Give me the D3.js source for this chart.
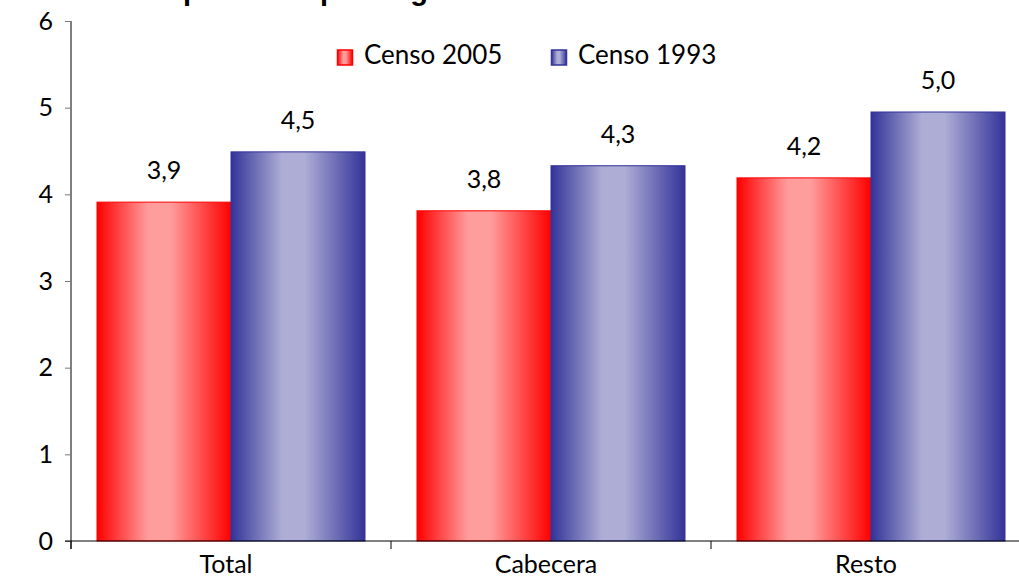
<!DOCTYPE html>
<html><head><meta charset="utf-8">
<script src="https://cdn.jsdelivr.net/npm/d3@7"></script>
<style>
body{margin:0;background:#fff;}
svg{display:block;}
text{font-family:Lato,"Open Sans",sans-serif;fill:#000;}
</style></head>
<body>
<svg id="chart" width="1019" height="582"></svg>
<script>
const categories = ["Total", "Cabecera", "Resto"];
const seriesNames = ["Censo 2005", "Censo 1993"];
const censo2005 = [3.91, 3.81, 4.19];
const censo1993 = [4.49, 4.33, 4.95];
const labels2005 = ["3,9", "3,8", "4,2"];
const labels1993 = ["4,5", "4,3", "5,0"];
const yTicks = [0, 1, 2, 3, 4, 5, 6];
const titleText = ["Promedio de ", "personas por hogar"];

const svg = d3.select("#chart");
const defs = svg.append("defs");

function grad(id, edge, light) {
  const g = defs.append("linearGradient").attr("id", id)
    .attr("x1", "0%").attr("x2", "100%").attr("y1", "0%").attr("y2", "0%");
  [[0, edge], [0.38, light], [0.55, light], [1, edge]].forEach(([o, c]) =>
    g.append("stop").attr("offset", o).attr("stop-color", c));
}
grad("gRed", "#ff0000", "#ff9c9c");
grad("gBlue", "#333399", "#adadd6");

const colors = {"Censo 2005": {fill: "url(#gRed)", stroke: "#ff0000"},
                "Censo 1993": {fill: "url(#gBlue)", stroke: "#333399"}};

const y = d3.scaleLinear().domain([0, 6]).range([541, 21]);
const x0 = d3.scaleBand().domain(categories).range([71, 1031]).padding(0);
const x1 = d3.scaleBand().domain(seriesNames).range([0, x0.bandwidth()])
  .paddingInner(0).paddingOuter(0.194);

const data = categories.map((c, i) => ({
  cat: c,
  vals: [
    {s: "Censo 2005", v: censo2005[i], lab: labels2005[i]},
    {s: "Censo 1993", v: censo1993[i], lab: labels1993[i]}
  ]
}));

// title (mostly clipped at top, as in the reference)
const t = svg.append("g").style("font-family", "'Liberation Sans',Arial,sans-serif")
  .style("font-weight", "bold").style("font-size", "29px");
t.append("text").attr("x", 183).attr("y", 0).attr("text-anchor", "end")
  .style("font-family", "inherit").text(titleText[0]);
t.append("text").attr("x", 183).attr("y", 0)
  .style("font-family", "inherit").text(titleText[1]);

// bars
const groups = svg.append("g").selectAll("g").data(data).join("g")
  .attr("transform", d => `translate(${x0(d.cat)},0)`);
groups.selectAll("rect").data(d => d.vals).join("rect")
  .attr("x", d => x1(d.s))
  .attr("y", d => y(d.v))
  .attr("width", x1.bandwidth())
  .attr("height", d => y(0) - y(d.v))
  .attr("fill", d => colors[d.s].fill)
  .attr("stroke", d => colors[d.s].stroke)
  .attr("stroke-width", 1);
groups.selectAll("text.val").data(d => d.vals).join("text")
  .attr("class", "val")
  .attr("x", d => x1(d.s) + x1.bandwidth() / 2)
  .attr("y", d => y(d.v) - 23)
  .attr("text-anchor", "middle")
  .style("font-size", "25px")
  .text(d => d.lab);

// y axis
const yAxis = svg.append("g").attr("transform", "translate(71,0)")
  .call(d3.axisLeft(y).tickValues(yTicks).tickSize(6).tickPadding(12).tickFormat(d3.format("d")));
yAxis.select(".domain").attr("stroke", "#000").attr("d", "M0,21V549");
yAxis.selectAll(".tick line").attr("stroke", "#777");
yAxis.selectAll(".tick text").style("font-size", "25px").style("font-family", "Lato,'Open Sans',sans-serif");

// x axis
const xAxis = svg.append("g").attr("transform", "translate(0,541)")
  .call(d3.axisBottom(x0).tickSize(0).tickPadding(14));
xAxis.select(".domain").attr("stroke", "#000").attr("d", "M65,0H1019");
xAxis.selectAll(".tick text").attr("dx", -5)
  .style("font-size", "25px").style("font-family", "Lato,'Open Sans',sans-serif");
svg.append("g").selectAll("line").data(categories).join("line")
  .attr("x1", d => x0(d)).attr("x2", d => x0(d))
  .attr("y1", 541).attr("y2", 549).attr("stroke", "#000");

// legend
const leg = svg.append("g");
const legX = [337, 551];
seriesNames.forEach((s, i) => {
  const g = leg.append("g").attr("transform", `translate(${legX[i]},50)`);
  g.append("rect").attr("x", 0.5).attr("y", 0).attr("width", 15).attr("height", 15)
    .attr("fill", colors[s].fill).attr("stroke", colors[s].stroke).attr("stroke-width", 1.5);
  g.append("text").attr("x", 27).attr("y", 13.5).style("font-size", "26px").text(s);
});
</script>
</body></html>
